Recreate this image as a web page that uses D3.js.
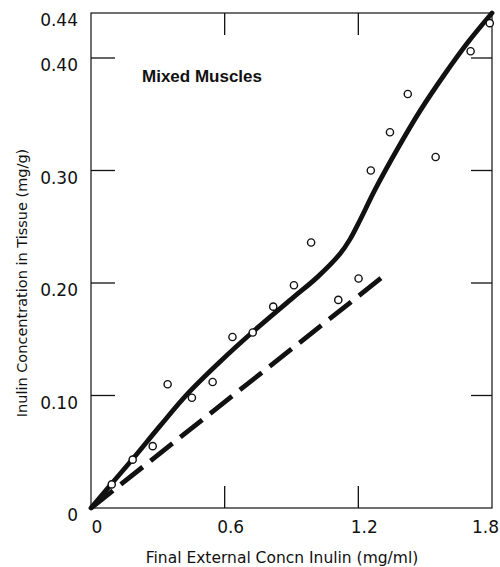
<!DOCTYPE html>
<html>
<head>
<meta charset="utf-8">
<script src="https://cdn.jsdelivr.net/npm/d3@7"></script>
<style>
	body { margin: 0; background: #fff; }
	svg { display: block; }
	text { fill: #111; }
</style>
</head>
<body>
<svg width="500" height="567"></svg>
<script>
// measured points (open circles)
var pointX = [0.093, 0.187, 0.277, 0.344, 0.453, 0.546, 0.635, 0.726, 0.818, 0.911, 0.988, 1.110, 1.201, 1.256, 1.342, 1.422, 1.547, 1.704, 1.790];
var pointY = [0.021, 0.043, 0.055, 0.110, 0.098, 0.112, 0.152, 0.156, 0.179, 0.198, 0.236, 0.185, 0.204, 0.300, 0.334, 0.368, 0.312, 0.406, 0.431];

// hand drawn fit (solid)
var curveX = [0, 0.090, 0.189, 0.310, 0.431, 0.579, 0.723, 0.907, 1.015, 1.118, 1.163, 1.208, 1.275, 1.378, 1.477, 1.589, 1.692, 1.80];
var curveY = [0, 0.021, 0.044, 0.073, 0.101, 0.130, 0.156, 0.187, 0.205, 0.226, 0.239, 0.256, 0.283, 0.320, 0.353, 0.386, 0.414, 0.440];

// dashed line
var dashX = [0, 1.325];
var dashY = [0, 0.208];

var xTicks = [0, 0.6, 1.2, 1.8];
var xTickLabels = ['0', '0.6', '1.2', '1.8'];
var yTicks = [0, 0.10, 0.20, 0.30, 0.40, 0.44];
var yTickLabels = ['0', '0.10', '0.20', '0.30', '0.40', '0.44'];

var plotL = 91, plotR = 492, plotT = 13, plotB = 508;

var x = d3.scaleLinear().domain([0, 1.8]).range([plotL, plotR]);
var y = d3.scaleLinear().domain([0, 0.44]).range([plotB, plotT]);

var svg = d3.select('svg');

// frame
svg.append('rect')
	.attr('x', plotL).attr('y', plotT)
	.attr('width', plotR - plotL).attr('height', plotB - plotT)
	.attr('fill', 'none').attr('stroke', '#111').attr('stroke-width', 1.2);

// inner ticks, x (bottom and top)
var xInner = [0.6, 1.2];
svg.append('g').selectAll('line').data(xInner).enter().append('line')
	.attr('x1', x).attr('x2', x)
	.attr('y1', plotB).attr('y2', plotB - 22)
	.attr('stroke', '#111').attr('stroke-width', 1.3);
svg.append('g').selectAll('line').data(xInner).enter().append('line')
	.attr('x1', x).attr('x2', x)
	.attr('y1', plotT).attr('y2', plotT + 22)
	.attr('stroke', '#111').attr('stroke-width', 1.3);

// inner ticks, y (left and right)
var yInner = [0.10, 0.20, 0.30, 0.40];
svg.append('g').selectAll('line').data(yInner).enter().append('line')
	.attr('x1', plotL).attr('x2', plotL + 24)
	.attr('y1', y).attr('y2', y)
	.attr('stroke', '#111').attr('stroke-width', 1.3);
svg.append('g').selectAll('line').data(yInner).enter().append('line')
	.attr('x1', plotR).attr('x2', plotR - 21)
	.attr('y1', y).attr('y2', y)
	.attr('stroke', '#111').attr('stroke-width', 1.3);

// tick labels
svg.append('g').selectAll('text').data(xTicks).enter().append('text')
	.attr('x', function(d, i){ return i == xTicks.length - 1 ? 499 : x(d) + 6; })
	.attr('y', 533)
	.attr('text-anchor', function(d, i){ return i == xTicks.length - 1 ? 'end' : 'middle'; })
	.style('font-family', 'DejaVu Sans').style('font-size', '17px')
	.text(function(d, i){ return xTickLabels[i]; });

svg.append('g').selectAll('text').data(yTicks).enter().append('text')
	.attr('x', 78)
	.attr('y', function(d){ return y(d) + 13; })
	.attr('text-anchor', 'end')
	.style('font-family', 'DejaVu Sans').style('font-size', '17px')
	.text(function(d, i){ return yTickLabels[i]; });

// axis titles
svg.append('text')
	.attr('x', 282).attr('y', 563)
	.attr('text-anchor', 'middle')
	.style('font-family', 'DejaVu Sans').style('font-size', '15.5px')
	.text('Final External Concn Inulin (mg/ml)');

svg.append('text')
	.attr('transform', 'translate(27,283) rotate(-90)')
	.attr('text-anchor', 'middle')
	.style('font-family', 'DejaVu Sans').style('font-size', '14.5px')
	.text('Inulin Concentration in Tissue  (mg/g)');

svg.append('text')
	.attr('x', 142).attr('y', 82)
	.style('font-family', 'Liberation Sans').style('font-weight', 'bold').style('font-size', '17px')
	.text('Mixed Muscles');

// lines
var line = d3.line()
	.x(function(d){ return x(d[0]); })
	.y(function(d){ return y(d[1]); });

svg.append('path')
	.datum(dashX.map(function(v, i){ return [v, dashY[i]]; }))
	.attr('d', line)
	.attr('fill', 'none').attr('stroke', '#111').attr('stroke-width', 4.8)
	.attr('stroke-dasharray', '28,10');

svg.append('path')
	.datum(curveX.map(function(v, i){ return [v, curveY[i]]; }))
	.attr('d', line.curve(d3.curveCatmullRom.alpha(0.5)))
	.attr('fill', 'none').attr('stroke', '#111').attr('stroke-width', 4.8)
	.attr('stroke-linecap', 'round');

// points
svg.append('g').selectAll('circle').data(pointX).enter().append('circle')
	.attr('cx', function(d){ return x(d); })
	.attr('cy', function(d, i){ return y(pointY[i]); })
	.attr('r', 3.6)
	.attr('fill', '#fff').attr('stroke', '#111').attr('stroke-width', 1.4);
</script>
</body>
</html>
